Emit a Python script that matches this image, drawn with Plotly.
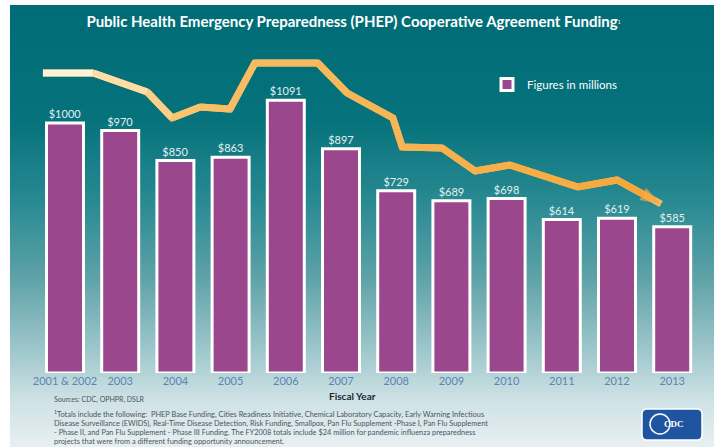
import plotly.graph_objects as go

# ---------------- data ----------------
years = ["2001 & 2002", "2003", "2004", "2005", "2006", "2007",
         "2008", "2009", "2010", "2011", "2012", "2013"]
funding = [1000, 970, 850, 863, 1091, 897, 729, 689, 698, 614, 619, 585]

# decorative trend arrow (x in category index units, y in $ millions)
trend_x = [-0.40, 0.51, 1.49, 1.94, 2.45, 2.99, 3.44, 4.58, 5.11, 5.94,
           6.11, 6.83, 7.43, 8.06, 9.29, 10.0, 10.8]
trend_y = [1200, 1200, 1124, 1020, 1064, 1056, 1240, 1240, 1120, 1020,
           904, 900, 808, 832, 744, 772, 676]

footnote_lines = [
    "<sup>1</sup>Totals include the following:  PHEP Base Funding, Cities Readiness Initiative, Chemical Laboratory Capacity, Early Warning Infectious",
    "Disease Surveillance (EWIDS), Real-Time Disease Detection, Risk Funding, Smallpox, Pan Flu Supplement -Phase I, Pan Flu Supplement",
    "- Phase II, and Pan Flu Supplement - Phase III Funding. The FY2008 totals include $24 million for pandemic influenza preparedness",
    "projects that were from a different funding opportunity announcement.",
]

# ---------------- geometry helpers ----------------
W, H = 714, 447
ML, MR, MT, MB = 10, 0, 40, 74
PW, PH = W - ML - MR, H - MT - MB


def px(x):
    return (x - ML) / PW


def py(y):
    return (H - MB - y) / PH


def lerp(c1, c2, t):
    return tuple(int(round(a + (b - a) * t)) for a, b in zip(c1, c2))


def grad(stops, v):
    for (v0, c0), (v1, c1) in zip(stops, stops[1:]):
        if v0 <= v <= v1:
            return lerp(c0, c1, (v - v0) / (v1 - v0) if v1 > v0 else 0)
    return stops[-1][1] if v > stops[-1][0] else stops[0][1]


FONT = "Lato"
shapes = []

# background gradient panel
bg_stops = [(5, (0, 108, 117)), (120, (6, 114, 123)), (200, (40, 137, 146)),
            (280, (96, 163, 169)), (350, (158, 199, 203)), (400, (206, 226, 229)),
            (447, (232, 239, 241))]
step = 4
y = 5
while y < H:
    c = grad(bg_stops, y + step / 2)
    shapes.append(dict(type="rect", xref="paper", yref="paper", layer="below",
                       x0=px(10), x1=px(W), y0=py(min(y + step + 0.5, H)), y1=py(y),
                       fillcolor="rgb(%d,%d,%d)" % c, line=dict(width=0)))
    y += step

# CDC logo badge
lx0, lx1, ly0, ly1, r = 642, 702, 409, 440, 5
path = (f"M {px(lx0 + r)},{py(ly0)} L {px(lx1 - r)},{py(ly0)} "
        f"Q {px(lx1)},{py(ly0)} {px(lx1)},{py(ly0 + r)} L {px(lx1)},{py(ly1 - r)} "
        f"Q {px(lx1)},{py(ly1)} {px(lx1 - r)},{py(ly1)} L {px(lx0 + r)},{py(ly1)} "
        f"Q {px(lx0)},{py(ly1)} {px(lx0)},{py(ly1 - r)} L {px(lx0)},{py(ly0 + r)} "
        f"Q {px(lx0)},{py(ly0)} {px(lx0 + r)},{py(ly0)} Z")
shapes.append(dict(type="path", xref="paper", yref="paper", path=path,
                   fillcolor="#1f55a0", line=dict(color="white", width=1.5), layer="above"))
shapes.append(dict(type="circle", xref="paper", yref="paper", layer="above",
                   x0=px(650), x1=px(670), y0=py(434), y1=py(414),
                   line=dict(color="white", width=1.5)))

fig = go.Figure()

fig.add_trace(go.Bar(
    x=list(range(len(years))), y=funding,
    width=0.67,
    marker=dict(color="#9b478d", line=dict(color="white", width=3)),
    text=[f"${v}" for v in funding], textposition="outside",
    outsidetextfont=dict(color="#e2f0f1", size=11, family=FONT),
    constraintext="none", cliponaxis=False,
    name="Figures in millions", showlegend=True,
    hovertemplate="%{text}<extra></extra>",
))

# trend line: gradient from cream to orange, one trace per segment
line_stops = [(0.0, (255, 251, 242)), (0.10, (253, 228, 178)),
              (0.25, (248, 192, 105)), (1.0, (245, 166, 55))]
x_min, x_max = trend_x[0], trend_x[-1]
fig.add_trace(go.Scatter(x=trend_x, y=trend_y, mode="lines",
                         line=dict(color="rgb(247,185,95)", width=7),
                         showlegend=False, hoverinfo="skip"))
for i in range(len(trend_x) - 1):
    t = ((trend_x[i] + trend_x[i + 1]) / 2 - x_min) / (x_max - x_min)
    c = "rgb(%d,%d,%d)" % grad(line_stops, t)
    last = i == len(trend_x) - 2
    fig.add_trace(go.Scatter(
        x=trend_x[i:i + 2], y=trend_y[i:i + 2],
        mode="lines+markers" if last else "lines",
        line=dict(color=c, width=7),
        marker=dict(symbol="arrow", angleref="previous", size=[0, 22],
                    color=c, line=dict(width=0)) if last else None,
        showlegend=False, hoverinfo="skip", cliponaxis=False,
    ))

annotations = [
    dict(text="<b>Fiscal Year</b>", x=px(352), y=py(396), xref="paper", yref="paper",
         yanchor="middle", showarrow=False, font=dict(size=10, color="#1c2733", family=FONT)),
    dict(text="Sources: CDC, OPHPR, DSLR", x=px(52), y=py(399), xref="paper", yref="paper",
         xanchor="left", yanchor="middle", showarrow=False,
         font=dict(size=7, color="#4a5560", family=FONT)),
    dict(text="<b>CDC</b>", x=px(686), y=py(424), xref="paper", yref="paper",
         yanchor="middle", showarrow=False,
         font=dict(size=9, color="white", family="Liberation Serif")),
]
for k, ln in enumerate(footnote_lines):
    annotations.append(dict(text=ln, x=px(52), y=py(414 + k * 9.3), xref="paper", yref="paper",
                            xanchor="left", yanchor="middle", showarrow=False,
                            font=dict(size=7.4, color="#4a5560", family=FONT)))

fig.update_layout(
    width=W, height=H,
    margin=dict(l=ML, r=MR, t=MT, b=MB),
    paper_bgcolor="white", plot_bgcolor="rgba(0,0,0,0)",
    title=dict(text="<b>Public Health Emergency Preparedness (PHEP) Cooperative Agreement Funding</b>"
                    "<span style='font-size:7px'><sup>1</sup></span>",
               x=0.495, xanchor="center", y=1 - 22 / H, yanchor="middle",
               font=dict(size=15, color="white", family=FONT)),
    xaxis=dict(range=[(ML - 65) / 55.2, (W - 65) / 55.2], tickvals=list(range(len(years))),
               ticktext=years, showgrid=False, zeroline=False, showline=False, ticks="",
               tickfont=dict(size=11, color="#5a84b2", family=FONT)),
    yaxis=dict(range=[0, PH / 0.25], visible=False, showgrid=False),
    legend=dict(x=px(487), y=py(70), xanchor="left", yanchor="top",
                bgcolor="rgba(0,0,0,0)", font=dict(size=11.5, color="white", family=FONT)),
    shapes=shapes, annotations=annotations, bargap=0.3,
)

fig.write_html("out.html", config={"displayModeBar": False},
               post_script="document.body.style.margin='0';")
